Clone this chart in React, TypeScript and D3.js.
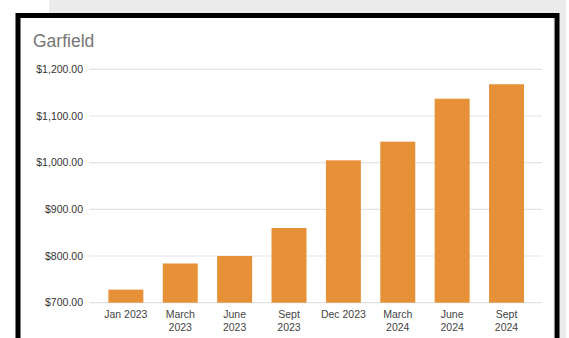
import React from "react";
import * as d3 from "d3";

const categories: string[][] = [
  ["Jan 2023"],
  ["March", "2023"],
  ["June", "2023"],
  ["Sept", "2023"],
  ["Dec 2023"],
  ["March", "2024"],
  ["June", "2024"],
  ["Sept", "2024"],
];
const values: number[] = [728, 784, 800, 860, 1005, 1045, 1137, 1168];
const yTicks: number[] = [700, 800, 900, 1000, 1100, 1200];
const title = "Garfield";

const W = 569;
const H = 338;
const FONT = "'Liberation Sans', Arial, sans-serif";

export default function App() {
  const keys = categories.map((c) => c.join(" "));
  const x = d3.scaleBand<string>().domain(keys).range([98.6, 533.8]).paddingInner(0.357).paddingOuter(0.18);
  const y = d3.scaleLinear().domain([700, 1200]).range([302.7, 69.3]);
  const fmt = (v: number) => "$" + d3.format(",.2f")(v);

  return (
    <svg
      width={W}
      height={H}
      style={{ position: "absolute", left: 0, top: 0, display: "block" }}
    >
      <rect x={0} y={0} width={W} height={H} fill="#ffffff" />
      <rect x={49} y={0} width={517} height={H} fill="#ebebeb" />
      <rect x={18} y={15.5} width={539} height={H + 20} fill="#ffffff" stroke="#000" strokeWidth={5} />
      <line x1={554.3} x2={554.3} y1={18} y2={H} stroke="#9a9a9a" strokeWidth={0.8} />
      <text x={33} y={47} fontFamily={FONT} fontSize={17.5} fill="#757575">
        {title}
      </text>
      {yTicks.map((t) => (
        <g key={t}>
          <line x1={89} x2={542} y1={y(t)} y2={y(t)} stroke="#e3e3e3" strokeWidth={1.2} />
          <text
            x={83}
            y={y(t)}
            dy="0.35em"
            textAnchor="end"
            fontFamily={FONT}
            fontSize={10.5}
            fill="#333"
          >
            {fmt(t)}
          </text>
        </g>
      ))}
      {values.map((v, i) => (
        <rect
          key={i}
          x={x(keys[i])!}
          y={y(v)}
          width={x.bandwidth()}
          height={y(700) - y(v)}
          fill="#e69138"
        />
      ))}
      {categories.map((lines, i) => (
        <text
          key={i}
          x={x(keys[i])! + x.bandwidth() / 2}
          y={318}
          textAnchor="middle"
          fontFamily={FONT}
          fontSize={10.5}
          fill="#444"
        >
          {lines.map((l, j) => (
            <tspan key={j} x={x(keys[i])! + x.bandwidth() / 2} dy={j === 0 ? 0 : 12.5}>
              {l}
            </tspan>
          ))}
        </text>
      ))}
    </svg>
  );
}
